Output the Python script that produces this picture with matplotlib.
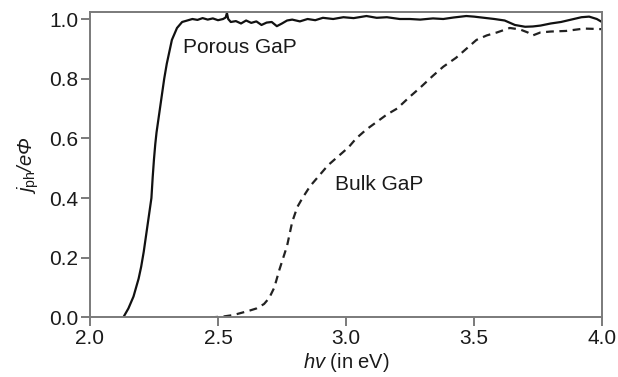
import matplotlib.pyplot as plt

plt.rcParams["font.family"] = ["Liberation Sans", "DejaVu Sans"]
plt.rcParams["mathtext.fontset"] = "custom"
# greek letters are taken from the rm font, so make it italic; sf stays upright
plt.rcParams["mathtext.rm"] = "Liberation Sans:italic"
plt.rcParams["mathtext.it"] = "Liberation Sans:italic"
plt.rcParams["mathtext.sf"] = "Liberation Sans"

# porous GaP (solid line)
porous_x = [2.13, 2.15, 2.17, 2.18, 2.19, 2.20, 2.21, 2.22, 2.23, 2.24, 2.245,
            2.25, 2.255, 2.26, 2.27, 2.28, 2.29, 2.30, 2.31, 2.32, 2.33, 2.34,
            2.36, 2.38, 2.40, 2.42, 2.44, 2.46, 2.48, 2.50, 2.52, 2.53, 2.535,
            2.54, 2.55, 2.57, 2.59, 2.61, 2.63, 2.65, 2.67, 2.69, 2.71, 2.73,
            2.75, 2.77, 2.79, 2.82, 2.85, 2.88, 2.91, 2.95, 2.99, 3.03, 3.08,
            3.12, 3.16, 3.21, 3.25, 3.29, 3.34, 3.38, 3.42, 3.47, 3.50, 3.54,
            3.58, 3.62, 3.66, 3.70, 3.73, 3.76, 3.80, 3.84, 3.88, 3.92, 3.95,
            3.98, 4.00]
porous_y = [0.0, 0.03, 0.07, 0.10, 0.13, 0.17, 0.22, 0.28, 0.34, 0.40, 0.47,
            0.53, 0.58, 0.62, 0.68, 0.74, 0.80, 0.85, 0.89, 0.93, 0.95, 0.97,
            0.99, 0.995, 1.0, 0.997, 1.003, 0.998, 1.002, 0.996, 1.0, 1.005, 1.02,
            1.0, 0.99, 0.993, 0.985, 0.995, 0.987, 0.992, 0.98, 0.988, 0.99, 0.976,
            0.985, 0.995, 0.998, 0.992, 1.0, 0.996, 1.004, 1.0, 1.006, 1.003, 1.01,
            1.004, 1.006, 1.0, 1.0, 0.998, 1.002, 1.0, 1.005, 1.01, 1.008, 1.004,
            1.0, 0.995, 0.98, 0.974, 0.975, 0.978, 0.985, 0.99, 0.998, 1.006, 1.008,
            1.0, 0.99]

# bulk GaP (dashed line)
bulk_x = [2.47, 2.52, 2.56, 2.59, 2.62, 2.65, 2.68, 2.70, 2.72, 2.74, 2.755,
          2.77, 2.78, 2.79, 2.81, 2.83, 2.86, 2.89, 2.93, 2.97, 3.01, 3.04,
          3.08, 3.12, 3.16, 3.20, 3.25, 3.29, 3.34, 3.38, 3.43, 3.47, 3.51,
          3.55, 3.59, 3.64, 3.68, 3.71, 3.73, 3.76, 3.80, 3.86, 3.93, 4.00]
bulk_y = [0.0, 0.003, 0.008, 0.015, 0.022, 0.03, 0.045, 0.065, 0.10, 0.16, 0.20,
          0.24, 0.28, 0.32, 0.37, 0.40, 0.44, 0.47, 0.51, 0.54, 0.57, 0.60,
          0.63, 0.655, 0.68, 0.70, 0.74, 0.77, 0.81, 0.84, 0.87, 0.90, 0.93,
          0.945, 0.955, 0.97, 0.965, 0.955, 0.945, 0.955, 0.958, 0.96, 0.968, 0.966]

xticks = [2.0, 2.5, 3.0, 3.5, 4.0]
yticks = [0.0, 0.2, 0.4, 0.6, 0.8, 1.0]

fig = plt.figure(figsize=(6.18, 3.77), dpi=100)
ax = fig.add_axes([0.1456, 0.158, 0.8284, 0.809])

ax.plot(porous_x, porous_y, color="#111111", lw=1.6)
ax.plot(bulk_x, bulk_y, color="#222222", lw=1.6, linestyle=(0, (3.5, 2.5)))

ax.text(2.365, 0.905, "Porous GaP", fontsize=15, va="center", ha="left", color="#1a1a1a")
ax.text(2.957, 0.444, "Bulk GaP", fontsize=15, va="center", ha="left", color="#1a1a1a")

ax.set_xlim(2.0, 4.0)
ax.set_ylim(0.0, 1.022)
ax.set_xticks(xticks)
ax.set_yticks(yticks)
ax.set_xticklabels([f"{v:.1f}" for v in xticks])
ax.set_yticklabels([f"{v:.1f}" for v in yticks])

for s in ax.spines.values():
    s.set_color("#7a7a7a")
    s.set_linewidth(1.4)
ax.tick_params(direction="out", length=6.5, width=1.4, color="#7a7a7a",
               labelsize=15, labelcolor="#1a1a1a", pad=2)

ax.set_xlabel(r"$hv$ (in eV)", fontsize=14.5, color="#1a1a1a", labelpad=2)
ax.set_ylabel(r"$j_{\mathsf{ph}}/e\Phi$", fontsize=14.5, color="#1a1a1a", labelpad=6)

fig.savefig("out.png", dpi=100)
